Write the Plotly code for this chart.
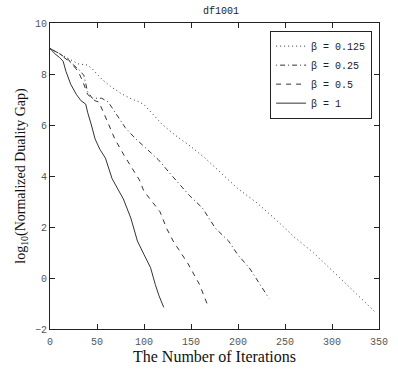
import plotly.graph_objects as go

labels = ["β = 0.125", "β = 0.25", "β = 0.5", "β = 1"]

x_0125 = [0, 10, 20, 30, 40, 45, 55, 65, 75, 85, 95, 100, 110, 120, 135, 150, 165, 180, 200, 220, 240, 260, 280, 300, 320, 345]
y_0125 = [9.0, 8.8, 8.6, 8.4, 8.35, 8.2, 7.8, 7.5, 7.25, 7.05, 6.9, 6.8, 6.4, 6.0, 5.55, 5.15, 4.7, 4.2, 3.5, 2.95, 2.3, 1.6, 1.0, 0.3, -0.4, -1.3]

x_025 = [0, 10, 20, 30, 36, 40, 45, 55, 62, 70, 80, 90, 100, 115, 130, 148, 162, 176, 190, 200, 212, 222, 233]
y_025 = [9.0, 8.8, 8.5, 8.2, 7.95, 7.3, 7.05, 7.05, 6.9, 6.45, 5.9, 5.5, 5.15, 4.65, 4.0, 3.25, 2.75, 1.95, 1.45, 0.9, 0.4, -0.15, -0.8]

x_05 = [0, 10, 20, 30, 35, 40, 48, 52, 58, 69, 79, 95, 100, 117, 124, 131, 147, 154, 159, 167]
y_05 = [9.0, 8.8, 8.55, 8.1, 7.7, 7.2, 6.95, 6.9, 6.4, 5.45, 4.8, 3.85, 3.4, 2.6, 1.95, 1.45, 0.55, 0.1, -0.25, -1.0]

x_1 = [0, 5, 10, 14, 17, 22, 28, 33, 38, 40, 44, 48, 53, 59, 66, 71, 78, 86, 93, 100, 107, 112, 116, 121]
y_1 = [9.0, 8.8, 8.65, 8.5, 8.1, 7.6, 7.2, 6.95, 6.82, 6.5, 6.0, 5.45, 5.05, 4.7, 3.9, 3.55, 3.1, 2.35, 1.45, 0.92, 0.4, -0.25, -0.7, -1.15]

series = [(x_0125, y_0125, "1px,3px"), (x_025, y_025, "1px,3px,5px,3px"),
          (x_05, y_05, "5px,5px"), (x_1, y_1, "solid")]

x_ticks = [0, 50, 100, 150, 200, 250, 300, 350]
y_ticks = [-2, 0, 2, 4, 6, 8, 10]

fig = go.Figure()
for (xs, ys, dash), name in zip(series, labels):
    fig.add_trace(go.Scatter(x=xs, y=ys, mode="lines", name=name,
                             line=dict(color="#333333", width=1, dash=dash)))

mono = "Liberation Mono"
axis_common = dict(showline=True, linecolor="#222", linewidth=1, mirror="allticks",
                   ticks="inside", ticklen=5, tickcolor="#222", showgrid=False, zeroline=False,
                   tickfont=dict(family=mono, size=10, color="#555"))
fig.update_layout(
    width=398, height=371, margin=dict(l=50, r=10, t=23, b=39),
    paper_bgcolor="white", plot_bgcolor="white",
    title=dict(text="df1001", x=0.555, xanchor="center", y=0.972, yanchor="middle",
               font=dict(family=mono, size=10, color="#222")),
    xaxis=dict(range=[0, 350], tickvals=x_ticks, ticklabelstandoff=3,
               title=dict(text="The Number of Iterations", standoff=2,
                          font=dict(family="Liberation Serif", size=16, color="#111")),
               **axis_common),
    yaxis=dict(range=[-2, 10], tickvals=y_ticks,
               title=dict(text="log<sub>10</sub>(Normalized Duality Gap)", standoff=6,
                          font=dict(family="Liberation Serif", size=14, color="#111")),
               **axis_common),
    legend=dict(x=0.669, y=0.975, xanchor="left", yanchor="top",
                bordercolor="#222", borderwidth=1, bgcolor="white",
                font=dict(family=mono, size=10, color="#222"),
                tracegroupgap=0),
    showlegend=True,
)
fig.write_html("out.html")
